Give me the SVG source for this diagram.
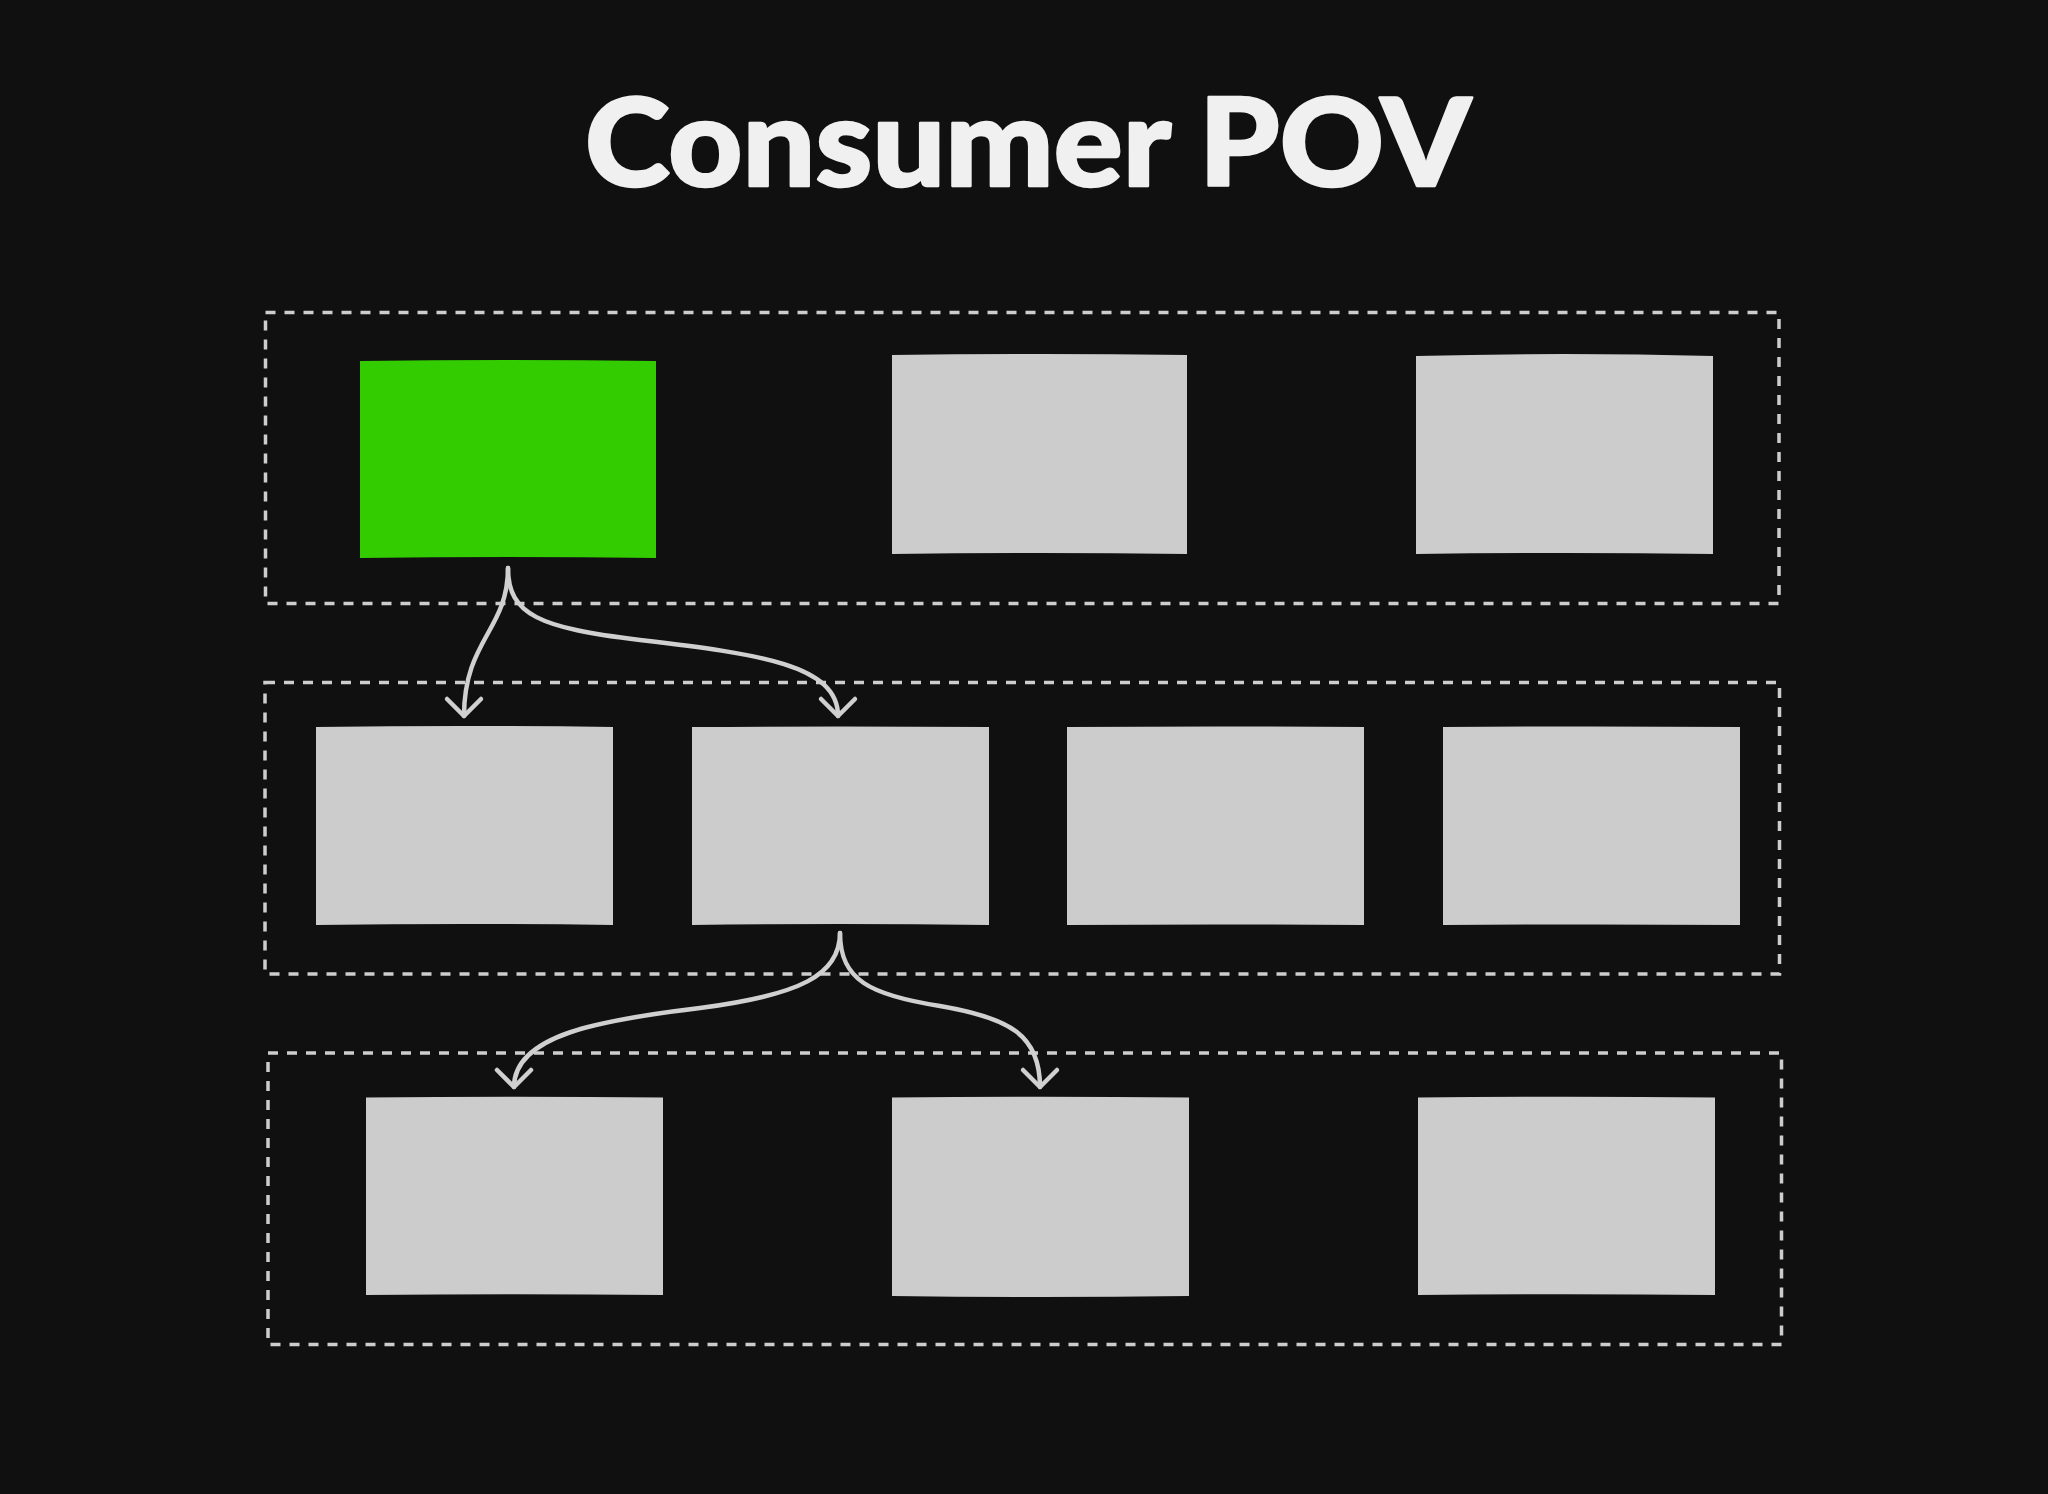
<svg xmlns="http://www.w3.org/2000/svg" width="2048" height="1494" viewBox="0 0 2048 1494">
  <defs>
    <style>
      .bg { fill: #111011; }
      .title { font-family: Lato, "Liberation Sans", sans-serif; font-weight: 900; font-size: 122px; fill: #f0f0f0; stroke: #f0f0f0; stroke-width: 2.5; stroke-linejoin: round; }
      .group { fill: none; stroke: #cdcdcd; stroke-width: 3.5; stroke-dasharray: 10 9; }
      .node { fill: #cdcccd; }
      .node.active { fill: #33cc00; }
      .conn { fill: none; stroke: #d0d0d0; stroke-width: 4.5; stroke-linecap: round; marker-end: url(#arrow); }
    </style>
    <marker id="arrow" markerUnits="userSpaceOnUse" viewBox="-22 -22 26 44" refX="0" refY="0" markerWidth="26" markerHeight="44" orient="auto" overflow="visible">
      <path d="M-17,-17 L0,0 L-17,17" fill="none" stroke="#d0d0d0" stroke-width="4.5" stroke-linecap="round" stroke-linejoin="round"/>
    </marker>
  </defs>

  <rect class="bg" x="0" y="0" width="2048" height="1494"/>

  <text id="title" class="title" x="585" y="186" textLength="886" lengthAdjust="spacingAndGlyphs">Consumer POV</text>

  <g id="groups">
    <rect id="layer1" class="group" x="265.5" y="312.5" width="1513.5" height="291"/>
    <rect id="layer2" class="group" x="265" y="682.5" width="1514.5" height="291.5"/>
    <rect id="layer3" class="group" x="268" y="1053" width="1513.5" height="291.5"/>
  </g>

  <g id="node-1-1"><path class="node active" d="M360,361 Q508,359 656,361 L656,558 Q508,556 360,558 Z"/></g>
  <g id="node-1-2"><path class="node" d="M892,355 Q1039,353 1187,355 L1187,554 Q1039,552 892,554 Z"/></g>
  <g id="node-1-3"><path class="node" d="M1416,356 Q1564,352 1713,356 L1713,554 Q1564,552 1416,554 Z"/></g>

  <g id="node-2-1"><path class="node" d="M316,727 Q464,725 613,727 L613,925 Q464,923 316,925 Z"/></g>
  <g id="node-2-2"><path class="node" d="M692,727 Q840,726 989,727 L989,925 Q840,923 692,925 Z"/></g>
  <g id="node-2-3"><path class="node" d="M1067,727 Q1215,726 1364,727 L1364,925 Q1215,924 1067,925 Z"/></g>
  <g id="node-2-4"><path class="node" d="M1443,727 Q1591,726 1740,727 L1740,925 Q1591,924 1443,925 Z"/></g>

  <g id="node-3-1"><path class="node" d="M366,1097.5 Q514,1096 663,1097.5 L663,1295 Q514,1293.5 366,1295 Z"/></g>
  <g id="node-3-2"><path class="node" d="M892,1097.5 Q1040,1096 1189,1097.5 L1189,1296 Q1040,1298 892,1296 Z"/></g>
  <g id="node-3-3"><path class="node" d="M1418,1097.5 Q1566,1096 1715,1097.5 L1715,1295 Q1566,1293.5 1418,1295 Z"/></g>

  <g id="connectors">
    <path class="conn" d="M508,568 C508,630 464,640 464,716"/>
    <path class="conn" d="M508,568 C508,615 540,628 640,640 C760,654 838,665 838,716"/>
    <path class="conn" d="M840,933 C840,975 800,995 700,1008 C600,1020 514,1035 514,1087"/>
    <path class="conn" d="M840,933 C840,980 870,995 940,1006 C1010,1018 1040,1035 1040,1087"/>
  </g>
</svg>
